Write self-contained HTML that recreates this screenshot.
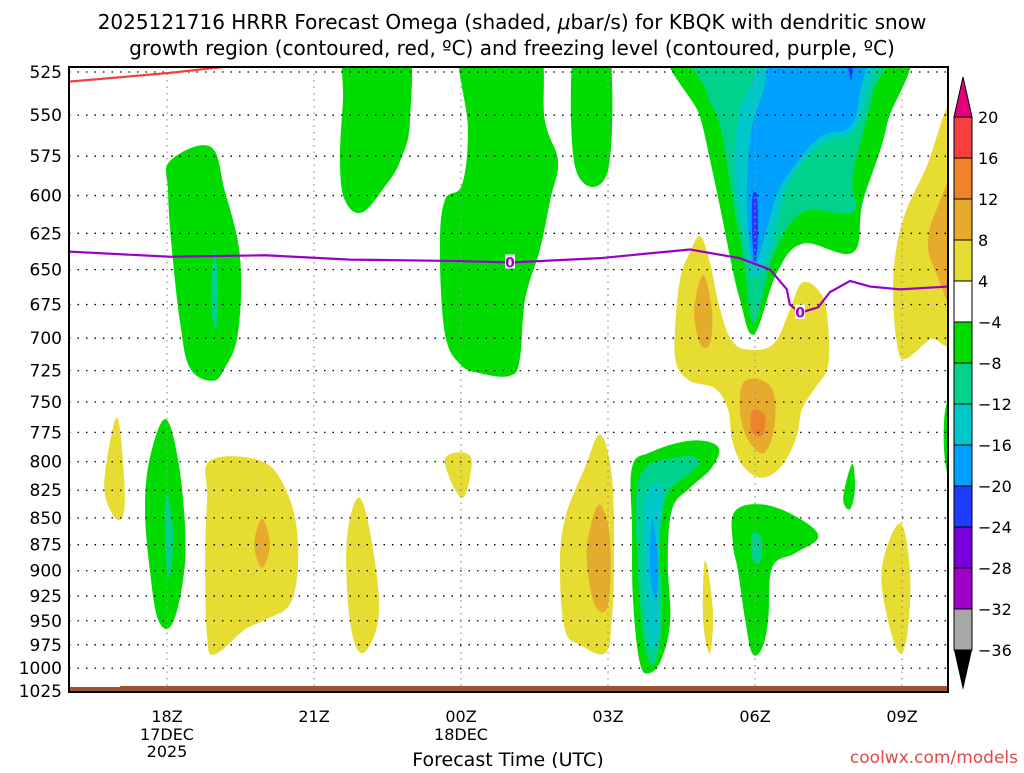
<!DOCTYPE html>
<html><head><meta charset="utf-8"><style>
body{margin:0;background:#fff;width:1024px;height:768px;overflow:hidden}
svg text{font-family:"DejaVu Sans","Liberation Sans",sans-serif}
</style></head><body>
<svg id="chart" width="1024" height="768" viewBox="0 0 1024 768" xmlns="http://www.w3.org/2000/svg">
<text x="512" y="29" text-anchor="middle" font-size="20">2025121716 HRRR Forecast Omega (shaded, <tspan font-style="italic">μ</tspan>bar/s) for KBQK with dendritic snow</text>
<text x="512" y="55" text-anchor="middle" font-size="20">growth region (contoured, red, ºC) and freezing level (contoured, purple, ºC)</text>
<defs><clipPath id="plotclip"><rect x="69" y="67" width="879" height="625"/></clipPath></defs>
<g id="fills" clip-path="url(#plotclip)"></g>
<g id="grid"></g>
<g id="lines" clip-path="url(#plotclip)"></g>
<rect x="69" y="686" width="879" height="6" fill="#9c5532"/>
<rect x="69" y="685" width="51" height="2" fill="#fff"/>
<rect x="69" y="67" width="879" height="625" fill="none" stroke="#000" stroke-width="2"/>
<g id="yaxis"></g>
<g id="xaxis"></g>
<text x="508" y="766" text-anchor="middle" font-size="19">Forecast Time (UTC)</text>
<text x="1018" y="763" text-anchor="end" font-size="17" fill="#e04848">coolwx.com/models</text>
<g id="cbar"></g>
</svg>
<script>
const NS="http://www.w3.org/2000/svg";
const pLevels=[525,550,575,600,625,650,675,700,725,750,775,800,825,850,875,900,925,950,975,1000,1025];
const hourTicks=[18,21,24,27,30,33];
const hourLabels=["18Z","21Z","00Z","03Z","06Z","09Z"];
const dateLabels=[["17DEC","2025"],[],["18DEC"],[],[],[]];
const cbLevels=[20,16,12,8,4,-4,-8,-12,-16,-20,-24,-28,-32,-36];
const cbColors=["#f64040","#f08228","#e6aa2d","#e6dc32","#ffffff","#00dc00","#00d28c","#00c8c8","#00a0ff","#1e3cff","#7800dc","#a000c8","#a8a8a8"];
const col={y:"#e6dc32",o:"#e6aa2d",r:"#f08228",g:"#00dc00",t:"#00d28c",c:"#00c8c8",b:"#00a0ff",d:"#1e3cff",w:"#ffffff"};
const regions=[
["g",[[18.06,578],[18.88,569],[19.18,597],[19.49,641],[19.45,696],[19.18,723],[18.92,733],[18.47,723],[18.27,689],[18.10,636],[18.02,597]]],
["t",[[18.96,636],[19.04,660],[19.0,693],[18.9,675]]],
["g",[[21.69,505],[22.86,505],[22.96,553],[22.76,578],[22.45,594],[21.98,611],[21.63,603],[21.53,578],[21.59,542]]],
["g",[[24.02,505],[24.14,558],[24.02,593],[23.67,603],[23.57,636],[23.67,696],[23.98,720],[24.39,727],[25.0,729],[25.2,716],[25.31,671],[25.61,636],[25.82,603],[25.98,578],[25.71,553],[25.51,505]]],
["g",[[26.33,505],[27.0,505],[27.0,584],[26.33,582]]],
["y",[[28.88,627],[28.67,638],[28.47,657],[28.37,693],[28.39,719],[28.67,733],[29.18,739],[29.45,756],[29.53,781],[29.73,802],[30.04,813],[30.35,811],[30.65,797],[30.86,777],[30.96,756],[31.22,739],[31.47,724],[31.51,701],[31.39,670],[30.98,659],[30.71,679],[30.41,703],[29.98,709],[29.55,703],[29.29,679],[29.08,645]]],
["o",[[28.94,654],[29.12,679],[29.08,704],[28.88,704],[28.76,679]]],
["o",[[29.8,733],[30.31,737],[30.41,765],[30.2,792],[29.86,781],[29.69,756]]],
["r",[[29.94,757],[30.2,761],[30.16,777],[29.94,775]]],
["g",[[28.41,505],[28.88,551],[29.08,577],[29.29,608],[29.49,641],[29.69,671],[29.98,697],[30.45,652],[30.98,632],[32.0,638],[32.2,604],[32.69,556],[32.88,505]]],
["t",[[28.84,505],[29.02,537],[29.29,557],[29.55,604],[29.76,641],[29.98,689],[30.37,641],[30.98,611],[32.0,611],[32.0,587],[32.41,537],[32.61,505]]],
["c",[[30.57,505],[29.84,537],[29.63,557],[29.59,591],[29.76,622],[29.98,655],[30.31,637],[30.65,595],[31.33,568],[32.0,560],[32.29,537],[32.39,505]]],
["b",[[30.57,505],[30.16,537],[29.96,554],[29.86,578],[29.84,612],[29.98,647],[30.24,622],[30.45,599],[30.78,582],[31.33,563],[31.94,557],[32.14,537],[32.24,505]]],
["d",[[29.95,600],[30.04,600],[30.06,625],[30.0,645],[29.94,625]]],
["d",[[31.88,515],[32.0,515],[31.96,530]]],
["y",[[34.1,545],[33.47,584],[33.06,612],[32.86,641],[32.82,671],[32.9,704],[33.06,716],[33.57,701],[34.1,690]]],
["o",[[34.1,590],[33.67,612],[33.53,632],[33.67,650],[34.1,676]]],
["y",[[17.0,764],[17.14,832],[17.0,852],[16.73,828],[16.8,792]]],
["g",[[17.96,764],[18.22,797],[18.37,860],[18.33,908],[18.1,954],[17.82,949],[17.65,899],[17.55,842],[17.65,797]]],
["t",[[17.98,828],[18.1,850],[18.12,880],[18.04,908],[17.96,870]]],
["y",[[18.88,799],[19.9,799],[20.41,823],[20.67,870],[20.55,929],[20.0,949],[19.59,959],[18.98,985],[18.82,968],[18.78,890],[18.82,832]]],
["o",[[19.94,851],[20.1,875],[19.94,897],[19.78,875]]],
["y",[[21.94,832],[22.24,890],[22.31,949],[21.98,984],[21.73,949],[21.67,870]]],
["y",[[23.67,800],[23.98,792],[24.22,800],[24.02,832]]],
["y",[[26.84,777],[27.08,813],[27.12,890],[27.08,949],[26.94,984],[26.43,975],[26.12,959],[26.02,899],[26.12,851],[26.53,805]]],
["o",[[26.84,838],[27.04,870],[27.0,934],[26.73,934],[26.57,890],[26.63,860]]],
["g",[[27.49,805],[27.86,792],[28.67,782],[29.24,787],[29.12,805],[28.67,823],[28.31,842],[28.22,890],[28.27,949],[28.1,989],[27.86,1005],[27.65,994],[27.51,929],[27.49,860]]],
["t",[[27.65,813],[28.47,796],[28.88,799],[28.67,810],[28.22,828],[28.06,870],[28.1,949],[27.96,994],[27.76,979],[27.61,899]]],
["c",[[27.76,832],[28.1,823],[28.02,890],[28.02,968],[27.82,968],[27.73,890]]],
["b",[[27.9,851],[28.02,890],[27.98,929],[27.86,899]]],
["y",[[28.98,890],[29.14,939],[29.08,984],[28.94,949]]],
["g",[[29.59,844],[30.2,838],[30.92,851],[31.29,868],[30.82,883],[30.35,897],[30.27,949],[30.14,979],[29.94,984],[29.8,949],[29.65,899],[29.55,875]]],
["t",[[29.94,864],[30.14,870],[30.1,892],[29.94,888]]],
["g",[[31.98,802],[32.04,823],[31.94,842],[31.8,832]]],
["y",[[32.96,855],[33.16,899],[33.12,959],[32.96,984],[32.71,949],[32.59,897]]],
["g",[[33.88,757],[34.1,745],[34.1,825],[33.88,800]]]
];
const freezeLine=[[16.0,637.5],[18.06,641],[20,640],[21.73,643],[23.98,644],[25.0,645],[26.84,642],[28.67,636],[29.69,642],[30.31,650],[30.65,664],[30.71,675],[30.92,681],[31.29,677],[31.53,666],[31.94,658],[32.35,662],[32.96,664],[33.94,662]];
const freezeLabels=[[25.0,645],[30.92,681]];
const dgzLine=[[16.0,530.5],[17.04,528],[18.06,525.5],[18.88,523],[19.5,521]];

const X0=69,HR0=16,PXH=49;
function xs(h){return X0+(h-HR0)*PXH;}
function ys(p){return 72+925.3*Math.log(p/525);}
function mk(tag,attrs,parent){const e=document.createElementNS(NS,tag);for(const k in attrs)e.setAttribute(k,attrs[k]);parent.appendChild(e);return e;}
function smoothPath(pts){
  const n=pts.length,t=0.18;let d='M'+pts[0][0].toFixed(1)+','+pts[0][1].toFixed(1);
  for(let i=0;i<n;i++){
    const p0=pts[(i-1+n)%n],p1=pts[i],p2=pts[(i+1)%n],p3=pts[(i+2)%n];
    const c1x=p1[0]+(p2[0]-p0[0])*t,c1y=p1[1]+(p2[1]-p0[1])*t;
    const c2x=p2[0]-(p3[0]-p1[0])*t,c2y=p2[1]-(p3[1]-p1[1])*t;
    d+=' C'+c1x.toFixed(1)+','+c1y.toFixed(1)+' '+c2x.toFixed(1)+','+c2y.toFixed(1)+' '+p2[0].toFixed(1)+','+p2[1].toFixed(1);
  }
  return d+'Z';
}

const fills=document.getElementById('fills');
regions.forEach((r,i)=>{
  const pts=r[1].map(q=>[xs(q[0]),ys(q[1])]);
  const e=mk('path',{d:smoothPath(pts),fill:col[r[0]]},fills);
  
  
});
const grid=document.getElementById('grid');
pLevels.forEach(p=>{
  const l=mk('line',{x1:69,x2:948,y1:ys(p),y2:ys(p),stroke:'#000','stroke-width':1.3,'stroke-dasharray':'1.5 7'},grid);
  
  
});
hourTicks.forEach(h=>{
  const l=mk('line',{x1:xs(h),x2:xs(h),y1:67,y2:692,stroke:'#999','stroke-width':1.3,'stroke-dasharray':'1.5 5'},grid);
  
  
});
const lines=document.getElementById('lines');
const fz=mk('polyline',{points:freezeLine.map(q=>xs(q[0])+','+ys(q[1])).join(' '),fill:'none',stroke:'#9a00c8','stroke-width':2.2},lines);


freezeLabels.forEach(q=>{
  const b=mk('rect',{x:xs(q[0])-5,y:ys(q[1])-8,width:10,height:14,fill:'#fff'},lines);
  
  
  const t=mk('text',{x:xs(q[0]),y:ys(q[1])+5,'text-anchor':'middle','font-size':14,'font-weight':'bold',fill:'#9a00c8'},lines);
  t.textContent='0';
  
  
});
const dg=mk('polyline',{points:dgzLine.map(q=>xs(q[0])+','+ys(q[1])).join(' '),fill:'none',stroke:'#f04040','stroke-width':2.2},lines);



const ya=document.getElementById('yaxis');
pLevels.forEach(p=>{
  const t=mk('text',{x:62,y:ys(p)+6,'text-anchor':'end','font-size':17},ya);
  t.textContent=p;
  
  
});
const xa=document.getElementById('xaxis');
hourTicks.forEach((h,i)=>{
  const t=mk('text',{x:xs(h),y:722,'text-anchor':'middle','font-size':16},xa);
  t.textContent=hourLabels[i];
  
  
  dateLabels[i].forEach((d,j)=>{
    const s=mk('text',{x:xs(h),y:740+j*17,'text-anchor':'middle','font-size':16},xa);
    s.textContent=d;
    
    
  });
});
const cb=document.getElementById('cbar');
const CB0=117,CBH=41;
const cbTop=mk('polygon',{points:'954,117 972,117 963,77',fill:'#e6007e',stroke:'#000','stroke-width':1},cb);


cbColors.forEach((c,i)=>{
  const r=mk('rect',{x:954,y:CB0+i*CBH,width:18,height:CBH,fill:c,stroke:'#000','stroke-width':1},cb);
  
  
});
const cbBot=mk('polygon',{points:'954,650 972,650 963,690',fill:'#000'},cb);


cbLevels.forEach((v,i)=>{
  const t=mk('text',{x:978,y:CB0+i*CBH+6,'font-size':16},cb);
  t.textContent=v<0?'\u2212'+(-v):String(v);
  
  
});
</script>
</body></html>
